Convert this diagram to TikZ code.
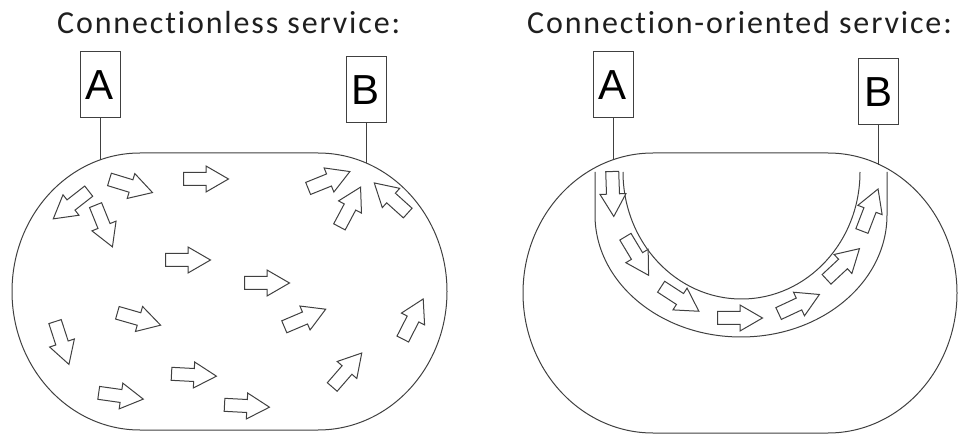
\documentclass[tikz,border=0pt]{standalone}
\usepackage{fontspec}
\setmainfont{Carlito}
\newfontfamily\titlefont[LetterSpace=5.8,Ligatures=NoCommon]{Carlito}
\newfontfamily\boxfont{Liberation Sans}
\begin{document}
\begin{tikzpicture}[x=1pt,y=-1pt,
  line/.style={draw=black!75,line width=1pt},
  title/.style={anchor=base west,inner sep=0pt,text=black!88,font=\titlefont\fontsize{32}{38}\selectfont},
  hostbox/.style={draw=black!75,line width=1pt,minimum width=40pt,minimum height=66pt,inner sep=0pt,font=\boxfont\fontsize{42}{46}\selectfont},
  blockarrow/.pic={\draw[black!75,line width=1pt,fill=white,line join=miter]
     (-22.5,-6.5)--(0,-6.5)--(0,-13)--(22.5,0)--(0,13)--(0,6.5)--(-22.5,6.5)--cycle;}
]
\useasboundingbox (0,0) rectangle (959,438);

% titles
\node[title] (t1) at (57,34) {Connectionless service:};
\node[title] (t2) at (527,34) {Connection-oriented service:};

% ---------- left: connectionless ----------
\path[line] (140,153) -- (318,153)
  arc[start angle=-90,end angle=90,x radius=129,y radius=138.5]
  -- (140,430)
  arc[start angle=90,end angle=270,x radius=128,y radius=138.5] -- cycle;

\node[hostbox] (A1) at (100,85) {A};
\node[hostbox] (B1) at (366,90) {B};
\coordinate (a1) at (100,160);
\coordinate (b1) at (366,163);
\draw[line] (A1.south) -- (a1);
\draw[line] (B1.south) -- (b1);

\foreach \x/\y/\a in {71/205/218, 131/186/-17, 206/179/0, 104/226/-68, 188/260/0,
   329/180/22, 350/207/62, 391/198/138, 139/319/-16, 62/343/-72, 194/375/-3,
   121/396/-8, 247/406/-3, 305/318/23, 413/319/63, 347/370/49, 267/283/0}
  \pic[rotate=\a] at (\x,\y) {blockarrow};

% ---------- right: connection-oriented ----------
\path[line] (653,153) -- (828,153)
  arc[start angle=-90,end angle=90,x radius=129,y radius=140]
  -- (653,433)
  arc[start angle=90,end angle=270,x radius=130,y radius=140] -- cycle;

\node[hostbox] (A2) at (613,85) {A};
\node[hostbox] (B2) at (878,92) {B};
\coordinate (a2) at (613,160);
\coordinate (b2) at (878,165);
\draw[line] (A2.south) -- (a2);
\draw[line] (B2.south) -- (b2);

% channel
\draw[line] (595,172) -- (595,215)
  arc[start angle=180,end angle=0,x radius=146,y radius=122] -- (887,172);
\draw[line] (623,172)
  arc[start angle=180,end angle=0,x radius=118.5,y radius=127];

\foreach \x/\y/\a in {613/194/-88, 637/256/-59, 680/299/-33, 740/318/0,
   799/304/25, 843/264/43, 870/210/69}
  \pic[rotate=\a] at (\x,\y) {blockarrow};
\end{tikzpicture}
\end{document}
